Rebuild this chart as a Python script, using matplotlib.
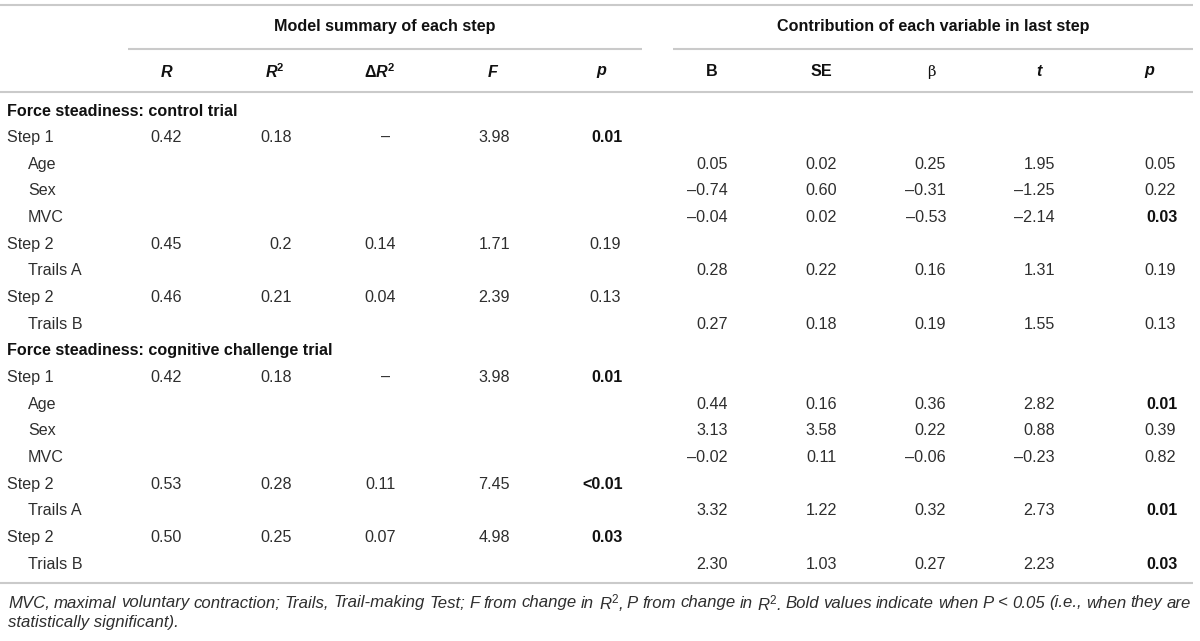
import matplotlib
matplotlib.use("Agg")
import matplotlib.pyplot as plt

plt.rcParams['font.family'] = ['Liberation Sans', 'DejaVu Sans']
plt.rcParams['mathtext.fontset'] = 'custom'
plt.rcParams['mathtext.rm'] = 'Liberation Sans'
plt.rcParams['mathtext.it'] = 'Liberation Sans:italic'
plt.rcParams['mathtext.bf'] = 'Liberation Sans:bold'
plt.rcParams['mathtext.bfit'] = 'Liberation Sans:italic:bold'

# ---------------- data ----------------
group_titles = ["Model summary of each step", "Contribution of each variable in last step"]
model_headers = [r"$\mathbfit{R}$", r"$\mathbfit{R}^{\mathbf{2}}$", r"$\mathbf{\Delta}\mathbfit{R}^{\mathbf{2}}$",
                 r"$\mathbfit{F}$", r"$\mathbfit{p}$"]
contrib_headers = ["B", "SE", "β", r"$\mathbfit{t}$", r"$\mathbfit{p}$"]

section_titles = ["Force steadiness: control trial", "Force steadiness: cognitive challenge trial"]

row_labels = [
    ["Step 1", "Age", "Sex", "MVC", "Step 2", "Trails A", "Step 2", "Trails B"],
    ["Step 1", "Age", "Sex", "MVC", "Step 2", "Trails A", "Step 2", "Trials B"],
]
row_indent = [False, True, True, True, False, True, False, True]

# model summary columns (R, R2, dR2, F, p) for step rows; None for variable rows
R_vals = [["0.42", None, None, None, "0.45", None, "0.46", None],
          ["0.42", None, None, None, "0.53", None, "0.50", None]]
R2_vals = [["0.18", None, None, None, "0.2", None, "0.21", None],
           ["0.18", None, None, None, "0.28", None, "0.25", None]]
dR2_vals = [["–", None, None, None, "0.14", None, "0.04", None],
            ["–", None, None, None, "0.11", None, "0.07", None]]
F_vals = [["3.98", None, None, None, "1.71", None, "2.39", None],
          ["3.98", None, None, None, "7.45", None, "4.98", None]]
p_model = [["0.01", None, None, None, "0.19", None, "0.13", None],
           ["0.01", None, None, None, "<0.01", None, "0.03", None]]

# contribution columns (B, SE, beta, t, p)
B_vals = [[None, "0.05", "–0.74", "–0.04", None, "0.28", None, "0.27"],
          [None, "0.44", "3.13", "–0.02", None, "3.32", None, "2.30"]]
SE_vals = [[None, "0.02", "0.60", "0.02", None, "0.22", None, "0.18"],
           [None, "0.16", "3.58", "0.11", None, "1.22", None, "1.03"]]
beta_vals = [[None, "0.25", "–0.31", "–0.53", None, "0.16", None, "0.19"],
             [None, "0.36", "0.22", "–0.06", None, "0.32", None, "0.27"]]
t_vals = [[None, "1.95", "–1.25", "–2.14", None, "1.31", None, "1.55"],
          [None, "2.82", "0.88", "–0.23", None, "2.73", None, "2.23"]]
p_contrib = [[None, "0.05", "0.22", "0.03", None, "0.19", None, "0.13"],
             [None, "0.01", "0.39", "0.82", None, "0.01", None, "0.03"]]

footnote = [
    r"MVC, maximal voluntary contraction; Trails, Trail-making Test; F from change in R$^{2}$, "
    r"P from change in R$^{2}$. Bold values indicate when P < 0.05 (i.e., when they are",
    "statistically significant).",
]

# ---------------- layout ----------------
fig = plt.figure(figsize=(12, 6.41), dpi=100)
ax = fig.add_axes([0, 0, 1, 1])
ax.set_xlim(0, 1200)
ax.set_ylim(641, 0)
ax.axis('off')

LINE = '#cacaca'
TXT = '#2e2e2e'
HDR = '#111111'
FS = 11.6
FS_NOTE = 12.1

head_x = [167, 275, 380, 493, 602, 712, 821, 931, 1040, 1150]
val_right = [182, 292, 396, 510, 621, 728, 837, 946, 1055, 1176]

# rules
LW = 1.5
ax.plot([0, 1193], [5, 5], color=LINE, lw=LW, solid_capstyle='butt')
ax.plot([128, 642], [48.5, 48.5], color=LINE, lw=LW, solid_capstyle='butt')
ax.plot([673, 1193], [48.5, 48.5], color=LINE, lw=LW, solid_capstyle='butt')
ax.plot([0, 1193], [92, 92], color=LINE, lw=LW, solid_capstyle='butt')
ax.plot([0, 1193], [582.5, 582.5], color=LINE, lw=LW, solid_capstyle='butt')

# group titles
ax.text(385, 27, group_titles[0], ha='center', va='center', fontsize=FS, fontweight='bold', color=HDR)
ax.text(933, 27, group_titles[1], ha='center', va='center', fontsize=FS, fontweight='bold', color=HDR)

# column headers
headers = model_headers + contrib_headers
for i, h in enumerate(headers):
    kw = dict(ha='center', va='center', fontsize=FS, color=HDR)
    if h in ("B", "SE"):
        kw['fontweight'] = 'bold'
    if h == "β":
        kw['family'] = ['DejaVu Serif']
        kw['fontsize'] = FS - 1
    ax.text(head_x[i], 72, h, **kw)


def is_sig(s):
    if s is None:
        return False
    if s.startswith("<"):
        return True
    return float(s) < 0.05


y0 = 111
dy = 26.65
row = 0
cols = [R_vals, R2_vals, dR2_vals, F_vals, p_model,
        B_vals, SE_vals, beta_vals, t_vals, p_contrib]
for s in range(2):
    y = y0 + dy * row
    ax.text(7, y, section_titles[s], ha='left', va='center', fontsize=FS, fontweight='bold', color=HDR)
    row += 1
    for r, lab in enumerate(row_labels[s]):
        y = y0 + dy * row
        ax.text(28 if row_indent[r] else 7, y, lab, ha='left', va='center', fontsize=FS, color=TXT)
        for c, arr in enumerate(cols):
            v = arr[s][r]
            if v is None:
                continue
            bold = (c in (4, 9)) and is_sig(v)
            if v == "–" and c == 2:
                ax.text(head_x[c] + 6, y, v, ha='center', va='center', fontsize=FS, color=TXT)
            else:
                ax.text(val_right[c] + (2 if bold else 0), y, v, ha='right', va='center', fontsize=FS,
                        color=HDR if bold else TXT, fontweight='bold' if bold else 'normal')
        row += 1

# footnote (first line justified across the table width)
fig.canvas.draw()
renderer = fig.canvas.get_renderer()
words = footnote[0].split(" ")
objs = [ax.text(0, 603, w, ha='left', va='center', fontsize=FS_NOTE, style='italic', color=TXT) for w in words]
widths = []
inv = ax.transData.inverted()
for t in objs:
    bb = t.get_window_extent(renderer=renderer)
    p0 = inv.transform((bb.x0, bb.y0))
    p1 = inv.transform((bb.x1, bb.y0))
    widths.append(p1[0] - p0[0])
left, right = 8, 1191
gap = (right - left - sum(widths)) / (len(words) - 1)
x = left
for t, w in zip(objs, widths):
    t.set_x(x)
    x += w + gap
ax.text(left, 623, footnote[1], ha='left', va='center', fontsize=FS_NOTE, style='italic', color=TXT)

fig.savefig("out.png", dpi=100)
